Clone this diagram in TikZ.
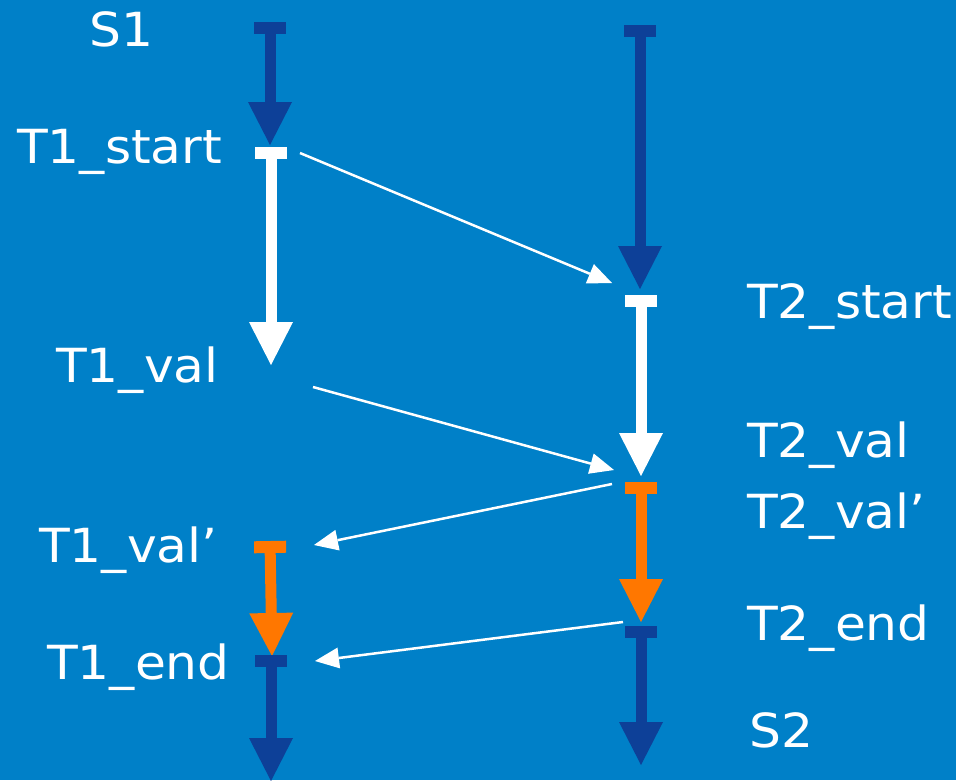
\documentclass[tikz,border=0pt]{standalone}
\usepackage{fontspec}
\setmainfont{DejaVu Sans}[FakeStretch=1.07]
\usetikzlibrary{arrows.meta}
\definecolor{bgblue}{RGB}{0,128,200}
\definecolor{darkblue}{RGB}{13,64,152}
\definecolor{txorange}{RGB}{255,119,0}
\begin{document}
\begin{tikzpicture}[x=1pt,y=-1pt,
  lbl/.style={anchor=base west,inner sep=0pt,text=white,font=\fontsize{47}{56}\selectfont},
  phase/.style={line width=11pt,
    {Rectangle[length=12pt,width=32pt,line width=0pt]}-{Triangle[length=43pt,width=44pt,line width=0pt]}},
  msg/.style={draw=white,line width=2.5pt,-{Triangle[length=24pt,width=21pt,line width=0pt]}}]
\fill[bgblue] (0,0) rectangle (956,780);
\useasboundingbox (0,0) rectangle (956,780);

% labels of the two timelines
\node[lbl] (s1)  at (89,46)   {S1};
\node[lbl] (t1s) at (17,163)  {T1\_start};
\node[lbl] (t1v) at (56,382)  {T1\_val};
\node[lbl] (t1p) at (39,562)  {T1\_val’};
\node[lbl] (t1e) at (47,679)  {T1\_end};
\node[lbl] (t2s) at (747,318) {T2\_start};
\node[lbl] (t2v) at (747,457) {T2\_val};
\node[lbl] (t2p) at (747,528) {T2\_val’};
\node[lbl] (t2e) at (747,640) {T2\_end};
\node[lbl] (s2)  at (749,747) {S2};

% phase boundaries, transaction 1
\coordinate (a0) at (270,22);
\coordinate (a1) at (270,145);
\coordinate (a2) at (271,147);
\coordinate (a3) at (271,365);
\coordinate (a4) at (270,541);
\coordinate (a5) at (272,656);
\coordinate (a6) at (271,655);
\coordinate (a7) at (271,781);
% phase boundaries, transaction 2
\coordinate (b0) at (640,25);
\coordinate (b1) at (640,289);
\coordinate (b2) at (641,295);
\coordinate (b3) at (641,476);
\coordinate (b4) at (641,482);
\coordinate (b5) at (641,622);
\coordinate (b6) at (641,626);
\coordinate (b7) at (641,765);

% phases
\draw[phase,darkblue]  (a0) -- (a1);
\draw[phase,white]     (a2) -- (a3);
\draw[phase,txorange]  (a4) -- (a5);
\draw[phase,darkblue]  (a6) -- (a7);
\draw[phase,darkblue]  (b0) -- (b1);
\draw[phase,white]     (b2) -- (b3);
\draw[phase,txorange]  (b4) -- (b5);
\draw[phase,darkblue]  (b6) -- (b7);

% messages between the transactions
\coordinate (m1s) at (300,153);  \coordinate (m1e) at (612,283);
\coordinate (m2s) at (313,387);  \coordinate (m2e) at (614,470);
\coordinate (m3s) at (612,484);  \coordinate (m3e) at (314,545);
\coordinate (m4s) at (623,622);  \coordinate (m4e) at (315,661);
\draw[msg] (m1s) -- (m1e);
\draw[msg] (m2s) -- (m2e);
\draw[msg] (m3s) -- (m3e);
\draw[msg] (m4s) -- (m4e);
\end{tikzpicture}
\end{document}
